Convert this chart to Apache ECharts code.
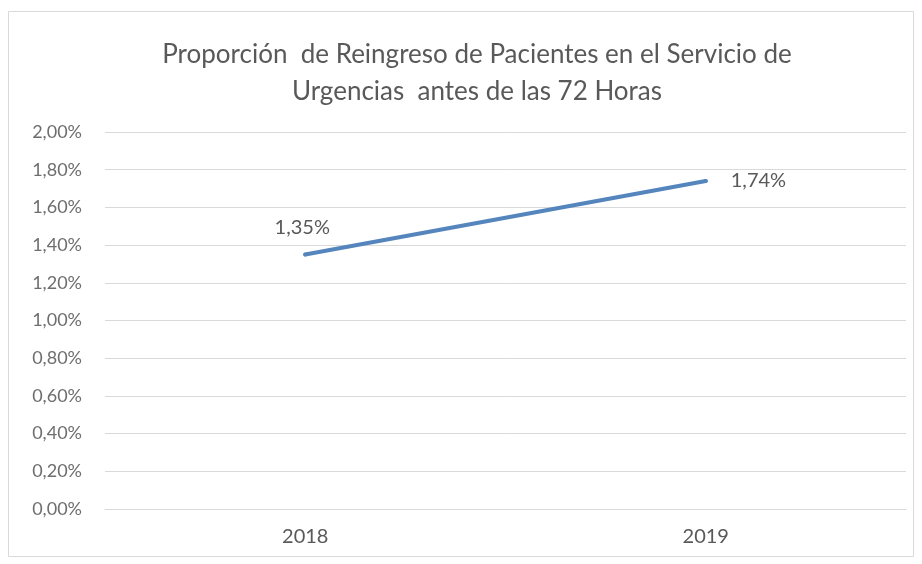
<!DOCTYPE html>
<html>
<head>
<meta charset="utf-8">
<script src="https://cdn.jsdelivr.net/npm/echarts@6/dist/echarts.min.js"></script>
<style>
  html, body { margin: 0; padding: 0; background: #ffffff; }
  #chart { width: 922px; height: 564px; }
</style>
</head>
<body>
<div id="chart"></div>
<script>
// Reingreso a urgencias antes de 72 horas, por año
const years = ['2018', '2019'];
const readmissionPct = [1.35, 1.74];
const yTicks = { min: 0, max: 2, step: 0.2 };

const fmtPct = v => v.toFixed(2).replace('.', ',') + '%';
const textColor = '#595959';
const lineColor = '#5585bd';
const fontFamily = 'Lato, "Noto Sans", sans-serif';

const chart = echarts.init(document.getElementById('chart'), null, { renderer: 'canvas' });

chart.setOption({
  backgroundColor: '#ffffff',
  animation: false,
  title: {
    text: 'Proporción  de Reingreso de Pacientes en el Servicio de\nUrgencias  antes de las 72 Horas',
    left: 472,
    textAlign: 'center',
    top: 31,
    textStyle: {
      color: textColor,
      fontFamily: fontFamily,
      fontWeight: 'normal',
      fontSize: 26,
      lineHeight: 37
    }
  },
  graphic: [{
    type: 'rect',
    shape: { x: 8.5, y: 11.5, width: 905, height: 545 },
    style: { fill: 'none', stroke: '#d9d9d9', lineWidth: 1 },
    silent: true
  }],
  grid: { left: 105, right: 16, top: 132, bottom: 55 },
  xAxis: {
    type: 'category',
    data: years,
    boundaryGap: true,
    axisLine: { show: true, lineStyle: { color: '#d9d9d9', width: 1 } },
    axisTick: { show: false },
    axisLabel: { color: textColor, fontFamily: fontFamily, fontSize: 20, margin: 18 }
  },
  yAxis: {
    type: 'value',
    min: yTicks.min,
    max: yTicks.max,
    interval: yTicks.step,
    axisLine: { show: false },
    axisTick: { show: false },
    splitLine: { lineStyle: { color: '#d9d9d9', width: 1 } },
    axisLabel: {
      color: '#6e6e6e',
      fontFamily: fontFamily,
      fontSize: 18,
      margin: 23,
      formatter: v => fmtPct(v)
    }
  },
  series: [{
    type: 'line',
    data: [
      { value: readmissionPct[0], label: { position: 'top', distance: 15, offset: [-3, 0] } },
      { value: readmissionPct[1], label: { position: 'right', distance: 23 } }
    ],
    showSymbol: true,
    symbol: 'circle',
    symbolSize: 4,
    itemStyle: { color: lineColor },
    lineStyle: { color: lineColor, width: 4, cap: 'round' },
    label: {
      show: true,
      color: textColor,
      fontFamily: fontFamily,
      fontSize: 20,
      formatter: p => fmtPct(p.value)
    }
  }]
});
</script>
</body>
</html>
